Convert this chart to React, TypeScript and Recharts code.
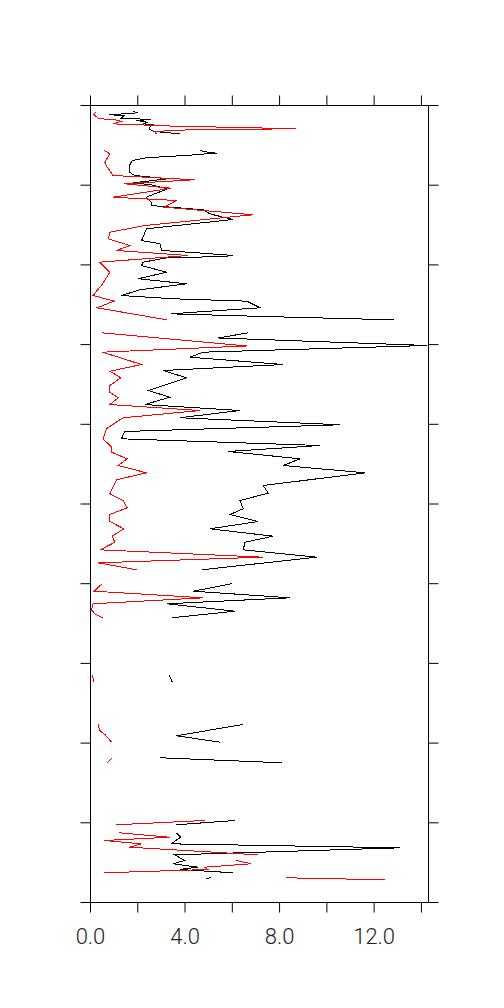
import React from 'react';
import { LineChart, Line, XAxis, YAxis } from 'recharts';

// depth (0 = top, 100 = bottom) and value pairs; null marks a gap in the profile
const blackDepth = [
  0.75, 0.92, 1.17, 1.25, 1.59, 1.76, 1.88, 2.1, 2.3, 2.42, 2.72, 3.01, 3.26, 3.55, 4.6,
  5.65, 5.86, 5.98, 6.06, 6.27, 6.4, 6.56, 6.78, 6.99, 7.53, 8.37, 8.78, 9.2, 9.7, 9.95,
  10.45, 11.51, 12.13, 12.55, 13.1, 13.59, 14.02, 14.3, 15.47, 16.94, 17.35, 18.19, 18.48,
  18.82, 18.95, 19.11, 19.66, 20.08, 20.92, 21.74, 22.37, 23.12, 23.84, 24.25, 24.55, 25.38,
  26.06, 26.14, 26.47, 26.89, 27.7,
  28.52, 29.17, 30.11, 30.95, 31.58, 32.5, 33.25, 34.17, 35.76, 36.6, 37.52, 38.27, 39.18,
  40.06, 40.9, 41.82, 42.66, 43.41, 44.33, 45.17, 46.09, 47.68, 48.65, 49.56, 50.6, 51.32,
  52.2, 53.11, 54.04, 54.79, 55.75, 56.67, 58.26, 59.1,
  60.01, 60.94, 61.77, 62.52, 63.45, 64.28, 68,
  71.52, 72.33, 75,
  77.67, 79.08, 79.89, 81,
  81.84, 82.47, 86,
  89.71, 90.25, 90.8,
  91.25, 91.81, 92.64, 93.14, 94.02, 94.73, 95.14, 95.57, 95.86, 96.27, 96.5,
  96.83, 97.03,
];
const blackValue: (number | null)[] = [
  1.79, 2.0, 0.8, 1.44, 1.3, 2.57, 1.93, 2.43, 2.22, 2.64, 2.5, 2.5, 2.71, 3.77, null,
  4.63, 4.98, 5.34, 4.91, 4.07, 3.22, 2.37, 1.95, 1.74, 1.65, 1.65, 1.86, 3.27, 1.79, 2.57,
  3.27, 2.35, 2.57, 2.57, 4.77, 5.05, 5.62, 6.04, 2.37, 2.16, 2.94, 3.01, 4.49,
  6.04, 5.62, 3.22, 2.23, 2.16, 3.22, 2.02, 4.07, 2.09, 1.31, 3.5, 6.61, 7.17,
  3.78, 3.4, 7.31, 12.82, null,
  6.68, 5.4, 14.25, 4.77, 4.21, 8.16, 3.07, 4.07, 2.44, 3.36, 2.3, 6.32, 3.78,
  10.56, 1.45, 1.31, 9.71, 5.83, 8.86, 8.16, 11.62, 7.31, 7.52, 6.32, 6.46, 5.9,
  7.1, 5.05, 7.73, 6.54, 6.46, 9.57, 4.7, null,
  5.97, 4.35, 8.44, 3.22, 6.11, 3.43, null,
  3.33, 3.46, null,
  6.44, 3.64, 5.48, null,
  2.94, 8.09, null,
  6.1, 3.63, null,
  3.63, 3.81, 3.41, 13.1, 3.56, 3.98, 3.49, 4.54, 3.77, 6.03, null,
  5.11, 4.9,
];

const redDepth = [
  0.75, 1.17, 1.67, 1.76, 2.01, 2.3, 2.6, 2.72, 2.92, 3.05, 3.26, 3.55, 4.6,
  5.65, 6.06, 7.11, 7.53, 8.16, 8.78, 9.32, 9.82, 10.38, 11.51, 11.92, 12.76, 13.71, 15.06,
  15.9, 16.73, 17.57, 18.19, 18.82, 19.66, 20.92, 22.37, 23.84, 24.55, 25.38, 26.89, 27.7,
  28.52, 30.17, 30.95, 32.5, 33.34, 34.17, 35.13, 35.97, 36.68, 37.52, 38.27, 39.18, 40.53,
  41.82, 42.87, 43.5, 44.33, 45.17, 46.09, 46.96, 48.72, 49.56, 50.48, 51.32, 52.2, 53.11,
  54.04, 54.79, 55.75, 56.67, 57.38, 58.26, 59.1,
  60.01, 60.94, 61.77, 62.52, 63.27, 63.78, 64.28, 68,
  71.52, 72.33, 75,
  77.67, 78.42, 78.93, 79.89, 81,
  81.84, 82.52, 86,
  89.71, 90.25, 90.8,
  91.25, 91.81, 92.22, 92.64, 93.06, 94.02, 94.4,
  94.73, 95.14, 95.57, 95.86, 96.27, 96.6,
  96.9, 97.15,
];
const redValue: (number | null)[] = [
  0.24, 0.14, 0.38, 1.02, 1.3, 0.94, 3.63, 5.68, 8.71, 4.19, 2.71, 2.78, null,
  0.58, 0.82, 0.61, 0.66, 0.82, 0.94, 4.4, 1.44, 3.41, 0.94, 3.63, 3.13, 6.87, 2.29,
  0.82, 0.75, 1.66, 1.1, 4.13, 0.39, 0.82, 0.51, 0.11, 1.0, 0.28, 3.22, null,
  0.49, 6.61, 0.51, 2.16, 0.82, 1.28, 0.82, 0.82, 1.17, 0.82, 4.63, 1.38, 0.68,
  0.53, 0.89, 0.89, 1.55, 1.17, 2.37, 1.1, 0.82, 1.38, 1.55, 0.82, 0.82, 1.41,
  0.91, 1.03, 0.42, 7.29, 0.32, 1.95, null,
  0.49, 0.15, 4.77, 0.11, 0.04, 0.18, 0.53, null,
  0.07, 0.15, null,
  0.32, 0.39, 0.61, 0.89, null,
  0.91, 0.7, null,
  4.83, 1.08, null,
  1.2, 3.35, 0.59, 2.14, 1.65, 7.09, null,
  6.17, 6.8, 4.83, 4.97, 0.59, null,
  8.28, 12.46,
];

const xTicks = [0, 2, 4, 6, 8, 10, 12, 14];
const xTickLabels: Record<number, string> = { 0: '0.0', 4: '4.0', 8: '8.0', 12: '12.0' };
const yTicks = [0, 10, 20, 30, 40, 50, 60, 70, 80, 90, 100];
const xDomain: [number, number] = [0, 14.3];
const yDomain: [number, number] = [0, 100];

type Pt = { d: number; v: number };

// split a profile into continuous pieces at its null gaps
function toSegments(depths: number[], values: (number | null)[]): Pt[][] {
  const out: Pt[][] = [];
  let cur: Pt[] = [];
  depths.forEach((d, i) => {
    const v = values[i];
    if (v === null || v === undefined) {
      if (cur.length) out.push(cur);
      cur = [];
    } else {
      cur.push({ d, v });
    }
  });
  if (cur.length) out.push(cur);
  return out;
}

const blackSegments = toSegments(blackDepth, blackValue);
const redSegments = toSegments(redDepth, redValue);

const empty = () => '';

export default function App() {
  return (
    <div style={{ position: 'absolute', left: 0, top: 0, width: 504, height: 1008, background: '#fff' }}>
      <LineChart
        width={504}
        height={1008}
        layout="vertical"
        margin={{ top: 95.5, right: 65.5, bottom: 55.5, left: 80.5 }}
      >
        <XAxis
          xAxisId="b"
          orientation="bottom"
          type="number"
          dataKey="v"
          domain={xDomain}
          ticks={xTicks}
          allowDataOverflow
          height={50}
          tickSize={10}
          tickMargin={16}
          stroke="#000"
          tickLine={{ stroke: '#000' }}
          tickFormatter={(t: number) => xTickLabels[t] ?? ''}
          tick={{ fill: '#222', fontSize: 22, fontFamily: 'Roboto', fontWeight: 300 }}
        />
        <XAxis
          xAxisId="t"
          orientation="top"
          type="number"
          dataKey="v"
          domain={xDomain}
          ticks={xTicks}
          allowDataOverflow
          height={10}
          tickSize={10}
          stroke="#000"
          tickLine={{ stroke: '#000' }}
          tickFormatter={empty}
        />
        <YAxis
          yAxisId="l"
          orientation="left"
          type="number"
          dataKey="d"
          domain={yDomain}
          ticks={yTicks}
          allowDataOverflow
          width={10}
          tickSize={10}
          stroke="#000"
          tickLine={{ stroke: '#000' }}
          tickFormatter={empty}
        />
        <YAxis
          yAxisId="r"
          orientation="right"
          type="number"
          dataKey="d"
          domain={yDomain}
          ticks={yTicks}
          allowDataOverflow
          width={10}
          tickSize={10}
          stroke="#000"
          tickLine={{ stroke: '#000' }}
          tickFormatter={empty}
        />
        {blackSegments.map((seg, i) => (
          <Line
            key={`b${i}`}
            data={seg}
            xAxisId="b"
            yAxisId="l"
            dataKey="v"
            type="linear"
            stroke="#000000"
            strokeWidth={1}
            shapeRendering="crispEdges"
            dot={false}
            activeDot={false}
            isAnimationActive={false}
          />
        ))}
        {redSegments.map((seg, i) => (
          <Line
            key={`r${i}`}
            data={seg}
            xAxisId="t"
            yAxisId="r"
            dataKey="v"
            type="linear"
            stroke="#ff0000"
            strokeWidth={1}
            shapeRendering="crispEdges"
            dot={false}
            activeDot={false}
            isAnimationActive={false}
          />
        ))}
      </LineChart>
    </div>
  );
}
